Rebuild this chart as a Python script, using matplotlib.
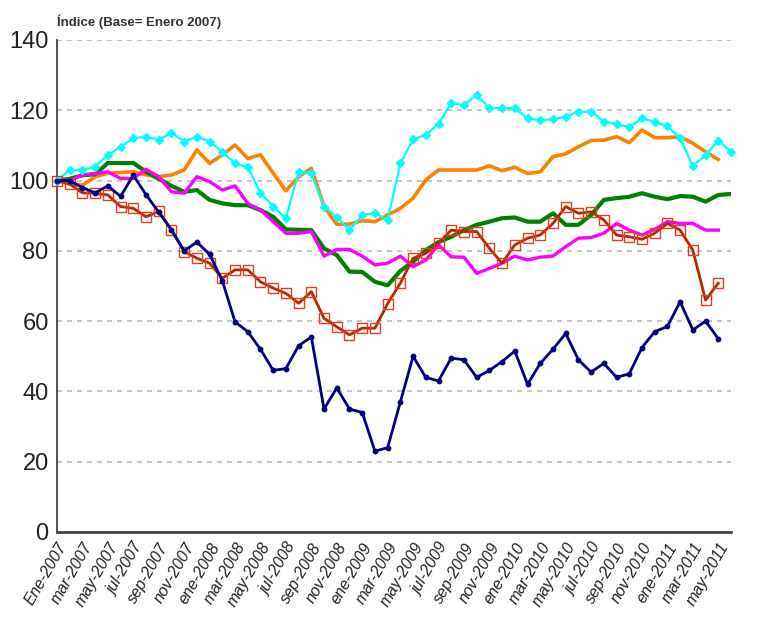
import matplotlib
matplotlib.use("Agg")
import matplotlib.pyplot as plt
import numpy as np

meses = ["ene", "feb", "mar", "abr", "may", "jun", "jul", "ago", "sep", "oct", "nov", "dic"]
periodos = []
for y in range(2007, 2012):
    for m in meses:
        periodos.append(f"{m}-{y}")
periodos = periodos[:54]
etiquetas = [("Ene-2007" if i == 0 else p) for i, p in enumerate(periodos)]

serie_azul = [100, 100, 98, 96.5, 98.5, 95.5, 101.5, 96, 91, 86, 80, 82.5, 79, 71.5,
              59.8, 57, 52, 46, 46.5, 53, 55.5, 35, 41, 35, 34, 23, 24, 37, 50, 44,
              43, 49.5, 49, 44, 46, 48.5, 51.5, 42, 48, 52, 56.5, 49, 45.5, 48, 44,
              45, 52.5, 57, 58.5, 65.5, 57.5, 60, 55]
serie_roja = [100, 99, 96.5, 96.4, 95.9, 92.6, 92.1, 89.7, 91.2, 85.9, 79.8, 77.9, 76.5,
              72.2, 74.6, 74.6, 71.2, 69.4, 67.9, 65.1, 68.4, 60.8, 58.4, 56.1, 58, 58,
              65, 70.8, 77.9, 79.3, 82.2, 85.9, 85.5, 85.5, 80.7, 76.5, 81.7, 83.6, 84.5,
              87.8, 92.6, 90.7, 91.1, 88.8, 84.5, 84, 83.3, 85, 87.8, 85.9, 80.2, 66, 70.8]
serie_verde = [100, 100.5, 101.5, 101.8, 105, 105, 105, 102.5, 100.5, 98.5, 96.8, 97.3,
               94.5, 93.5, 93, 93, 91.6, 89.7, 86.1, 86, 85.9, 80.7, 78.8, 74.1, 74, 71.2,
               70.2, 74.3, 76.9, 80.2, 82.5, 84, 85.9, 87.4, 88.3, 89.3, 89.5, 88.3, 88.3,
               90.7, 87.4, 87.4, 90.2, 94.5, 95, 95.4, 96.4, 95.4, 94.7, 95.6, 95.4, 94,
               95.9, 96.2]
serie_magenta = [100, 100, 101.6, 102, 102.5, 100.6, 100.6, 103.2, 101.1, 96.8, 96.4,
                 101.1, 99.7, 97.3, 98.5, 93.5, 91.6, 88.3, 85, 85, 85.5, 78.5, 80.4, 80.4,
                 78.5, 76, 76.5, 78.5, 75.5, 77.4, 81.7, 78.3, 78.2, 73.6, 75, 76.5, 78.5,
                 77.4, 78.2, 78.5, 81.2, 83.6, 83.8, 85, 87.8, 85.9, 84.5, 86.1, 88.3, 87.8,
                 87.8, 85.9, 85.9]
serie_naranja = [100, 99, 98.7, 101.1, 102.1, 102.3, 102.5, 101.6, 101.1, 101.6, 103,
                 108.7, 104.9, 107.3, 110.1, 106.3, 107.3, 102.1, 97.1, 101.1, 103.5, 92.6,
                 87.6, 87.6, 88.6, 88.3, 90.2, 92.1, 95, 100.2, 103, 103, 103, 103, 104.2,
                 102.8, 103.8, 102, 102.5, 106.8, 107.6, 109.6, 111.4, 111.5, 112.5, 110.8,
                 114.4, 112.2, 112.2, 112.5, 110.6, 108.2, 106]
serie_cian = [100, 103, 103, 104, 107.3, 109.6, 112, 112.5, 111.6, 113.6, 111.1, 112.5,
              111.1, 108.2, 104.9, 103.8, 96.5, 92.6, 89.3, 102.5, 102.1, 92.6, 89.7, 85.9,
              90.2, 90.7, 88.8, 104.9, 111.7, 113, 116.1, 122, 121.5, 124.4, 120.6, 120.6,
              120.6, 117.7, 117.2, 117.4, 118.2, 119.6, 119.6, 116.8, 116.1, 115.2, 117.7,
              116.7, 115.5, 112, 104.1, 107.2, 111.4, 108.2]

titulo = "Índice (Base= Enero 2007)"
y_ticks = [0, 20, 40, 60, 80, 100, 120, 140]

fig = plt.figure(figsize=(7.57, 6.28), dpi=100)
ax = fig.add_axes([57/757, 96/628, (731-57)/757, (532-40)/628])

def xs(s):
    return np.arange(len(s))

ax.plot(xs(serie_naranja), serie_naranja, color="#FF8000", lw=2.6, zorder=3)
ax.plot(xs(serie_verde), serie_verde, color="#008000", lw=3.0, zorder=3)
ax.plot(xs(serie_magenta), serie_magenta, color="#FF00FF", lw=2.4, zorder=3)
ax.plot(xs(serie_cian), serie_cian, color="#00FFFF", lw=1.6, marker="D", ms=4.5,
        mfc="#00FFFF", mec="#00FFFF", zorder=4, clip_on=False)
ax.plot(xs(serie_roja), serie_roja, color="#B82800", lw=2.0, marker="s", ms=7.5,
        mfc="none", mec="#E04020", mew=1.0, zorder=5, clip_on=False)
ax.plot(xs(serie_azul), serie_azul, color="#000080", lw=2.0, marker="o", ms=3.2,
        mfc="#000080", mec="#000080", zorder=6, clip_on=False)

ax.set_xlim(0, 53)
ax.set_ylim(0, 140)
ax.set_yticks(y_ticks)
ax.set_yticklabels([str(v) for v in y_ticks], fontsize=17, family="Liberation Sans",
                   color="#222222")
ax.yaxis.grid(True, linestyle=(0, (3, 3)), color="#BBBBBB", lw=1.2)
ax.set_axisbelow(True)

pos = list(range(0, 53, 2))
ax.set_xticks(pos)
ax.set_xticklabels([etiquetas[i] for i in pos], rotation=60, ha="right",
                   rotation_mode="anchor", fontsize=11.5, family="Liberation Sans",
                   style="italic", color="#222222")
ax.tick_params(axis="both", length=0, pad=6)
ax.tick_params(axis="x", pad=6)

for s in ["top", "right"]:
    ax.spines[s].set_visible(False)
ax.spines["left"].set_color("#333333")
ax.spines["left"].set_linewidth(1.2)
ax.spines["bottom"].set_color("#444444")
ax.spines["bottom"].set_linewidth(2.0)

fig.text(57/757, 1 - 22/628, titulo, fontsize=9.5, family="Liberation Sans",
         color="#333333", ha="left", va="center", weight="bold")

fig.savefig("out.png", dpi=100)
